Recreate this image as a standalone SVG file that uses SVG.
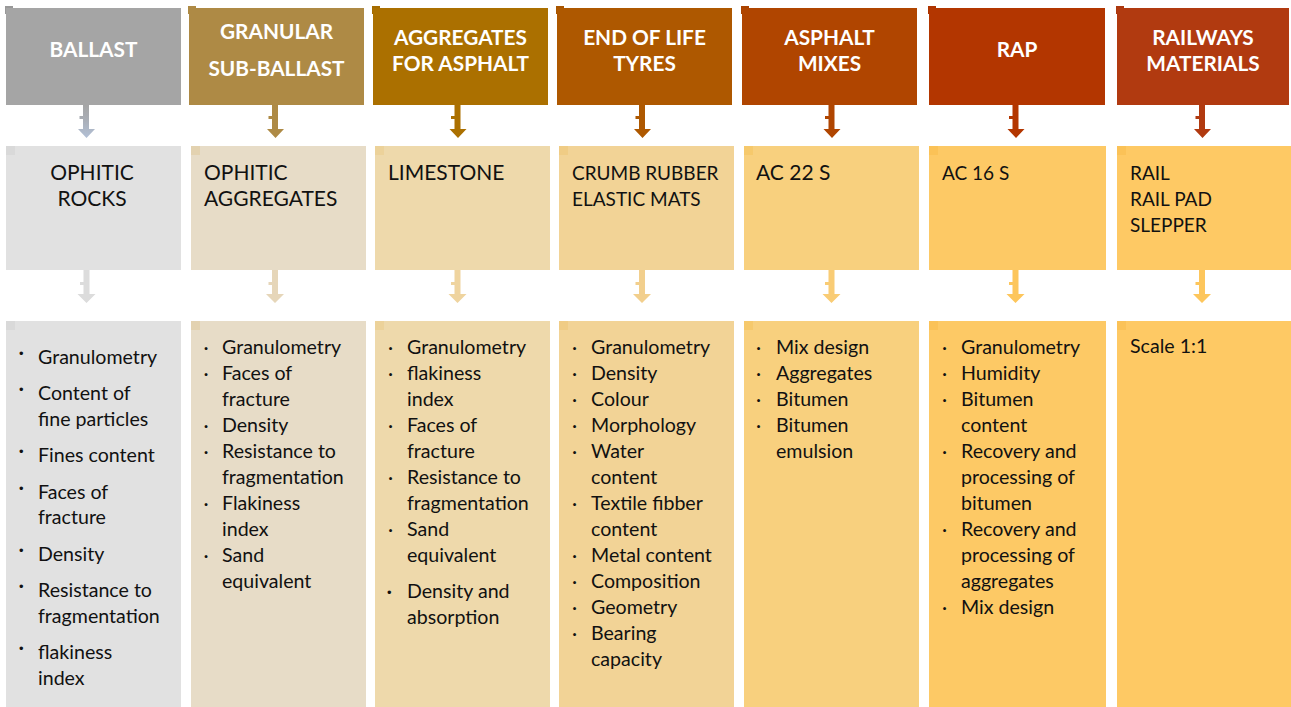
<svg xmlns="http://www.w3.org/2000/svg" width="1291" height="707" viewBox="0 0 1291 707">
<defs>
<linearGradient id="g1" x1="0" y1="0" x2="0" y2="1">
<stop offset="0" stop-color="#a5a5a5"/>
<stop offset="0.4" stop-color="#a9adb4"/>
<stop offset="1" stop-color="#b2c0d6"/>
</linearGradient>
<style>
.h{font-family:Lato,"Liberation Sans",sans-serif;font-weight:bold;font-size:20.8px;fill:#ffffff;text-anchor:middle}
.m{font-family:Lato,"Liberation Sans",sans-serif;font-size:21px;fill:#111111}
.ms{font-family:Lato,"Liberation Sans",sans-serif;font-size:19px;fill:#111111}
.b{font-family:Lato,"Liberation Sans",sans-serif;font-size:19.6px;fill:#111111}
.d{font-family:Lato,"Liberation Sans",sans-serif;font-size:19.6px;fill:#111111}
.bb{font-family:"Liberation Sans",sans-serif;font-size:13px;fill:#111111}
</style>
</defs>
<rect width="1291" height="707" fill="#ffffff"/>

<g id="connectors">
<path d="M83,105 H89 V129 H95 L86.5,138 L78,129 H83 V119 H79.5 V116 H83 Z" fill="url(#g1)"/>
<path d="M272,105 H278 V129 H284 L275.5,138 L267,129 H272 V119 H268.5 V116 H272 Z" fill="#ae8a45"/>
<path d="M454.5,105 H460.5 V129 H466.5 L458,138 L449.5,129 H454.5 V119 H451 V116 H454.5 Z" fill="#ab7000"/>
<path d="M639,105 H645 V129 H651 L642.5,138 L634,129 H639 V119 H635.5 V116 H639 Z" fill="#ae5800"/>
<path d="M828.5,105 H834.5 V129 H840.5 L832,138 L823.5,129 H828.5 V119 H825 V116 H828.5 Z" fill="#b04500"/>
<path d="M1012.5,105 H1018.5 V129 H1024.5 L1016,138 L1007.5,129 H1012.5 V119 H1009 V116 H1012.5 Z" fill="#b33600"/>
<path d="M1199,105 H1205 V129 H1211 L1202.5,138 L1194,129 H1199 V119 H1195.5 V116 H1199 Z" fill="#b13a10"/>

<path d="M83.5,270 H89.5 V294 H95.5 L86.5,303 L77.5,294 H83.5 V285 H80 V282 H83.5 Z" fill="#dcdcdc"/>
<path d="M272,270 H278 V294 H284 L275,303 L266,294 H272 V285 H268.5 V282 H272 Z" fill="#e6d6b9"/>
<path d="M454.5,270 H460.5 V294 H466.5 L457.5,303 L448.5,294 H454.5 V285 H451 V282 H454.5 Z" fill="#efd49f"/>
<path d="M639,270 H645 V294 H651 L642,303 L633,294 H639 V285 H635.5 V282 H639 Z" fill="#f2cf8d"/>
<path d="M828.5,270 H834.5 V294 H840.5 L831.5,303 L822.5,294 H828.5 V285 H825 V282 H828.5 Z" fill="#f9cc75"/>
<path d="M1012.5,270 H1018.5 V294 H1024.5 L1015.5,303 L1006.5,294 H1012.5 V285 H1009 V282 H1012.5 Z" fill="#fdc65c"/>
<path d="M1199,270 H1205 V294 H1211 L1202,303 L1193,294 H1199 V285 H1195.5 V282 H1199 Z" fill="#fdc65c"/>
</g>

<g id="h1"><rect x="5" y="6" width="8" height="8" fill="#999999"/><rect x="6" y="8" width="175" height="97" fill="#a5a5a5"/><text class="h" x="93.5" y="57">BALLAST</text></g>
<g id="h2"><rect x="188" y="6" width="8" height="8" fill="#ae8a45"/><rect x="189" y="8" width="175" height="97" fill="#ae8a45"/><text class="h" x="276.5" y="39">GRANULAR</text><text class="h" x="276.5" y="76">SUB-BALLAST</text></g>
<g id="h3"><rect x="372" y="6" width="8" height="8" fill="#a56c00"/><rect x="373" y="8" width="175" height="97" fill="#ab7000"/><text class="h" x="460.5" y="45">AGGREGATES</text><text class="h" x="460.5" y="71">FOR ASPHALT</text></g>
<g id="h4"><rect x="556" y="6" width="8" height="8" fill="#a85500"/><rect x="557" y="8" width="175" height="97" fill="#ae5800"/><text class="h" x="644.5" y="45">END OF LIFE</text><text class="h" x="644.5" y="71">TYRES</text></g>
<g id="h5"><rect x="741" y="6" width="8" height="8" fill="#aa4300"/><rect x="742" y="8" width="175" height="97" fill="#b04500"/><text class="h" x="829.5" y="45">ASPHALT</text><text class="h" x="829.5" y="71">MIXES</text></g>
<g id="h6"><rect x="928" y="6" width="8" height="8" fill="#ad3400"/><rect x="929" y="8" width="176" height="97" fill="#b33600"/><text class="h" x="1017" y="57">RAP</text></g>
<g id="h7"><rect x="1116" y="6" width="8" height="8" fill="#ab380f"/><rect x="1117" y="8" width="172" height="97" fill="#b13a10"/><text class="h" x="1203" y="45">RAILWAYS</text><text class="h" x="1203" y="71">MATERIALS</text></g>

<g id="m1"><rect x="6" y="146" width="175" height="124" fill="#e1e1e1"/><rect x="6" y="146" width="9" height="9" fill="#d9d9d9"/><text class="m" x="92" y="180" text-anchor="middle">OPHITIC</text><text class="m" x="92" y="206" text-anchor="middle">ROCKS</text></g>
<g id="m2"><rect x="191" y="146" width="175" height="124" fill="#e7dcc7"/><rect x="191" y="146" width="9" height="9" fill="#e3d2b0"/><text class="m" x="204" y="180">OPHITIC</text><text class="m" x="204" y="206">AGGREGATES</text></g>
<g id="m3"><rect x="375" y="146" width="175" height="124" fill="#eed9ab"/><rect x="375" y="146" width="9" height="9" fill="#ecd29a"/><text class="m" x="388" y="180">LIMESTONE</text></g>
<g id="m4"><rect x="559" y="146" width="175" height="124" fill="#f2d396"/><rect x="559" y="146" width="9" height="9" fill="#f0cc85"/><text class="ms" x="572" y="180">CRUMB RUBBER</text><text class="ms" x="572" y="206">ELASTIC MATS</text></g>
<g id="m5"><rect x="744" y="146" width="175" height="124" fill="#f8d07e"/><rect x="744" y="146" width="9" height="9" fill="#f6c96c"/><text class="m" x="756" y="180">AC 22 S</text></g>
<g id="m6"><rect x="929" y="146" width="177" height="124" fill="#fdc965"/><rect x="929" y="146" width="9" height="9" fill="#fbc257"/><text class="ms" x="942" y="180">AC 16 S</text></g>
<g id="m7"><rect x="1117" y="146" width="174" height="124" fill="#fec964"/><rect x="1117" y="146" width="9" height="9" fill="#fbc257"/><text class="ms" x="1130" y="180">RAIL</text><text class="ms" x="1130" y="206">RAIL PAD</text><text class="ms" x="1130" y="232">SLEPPER</text></g>

<g id="b1"><rect x="6" y="321" width="175" height="386" fill="#e1e1e1"/><rect x="6" y="321" width="9" height="9" fill="#d9d9d9"/>
<text class="bb" x="19" y="358">•</text><text class="b" x="38" y="364">Granulometry</text>
<text class="bb" x="19" y="394">•</text><text class="b" x="38" y="400">Content of</text><text class="b" x="38" y="426">fine particles</text>
<text class="bb" x="19" y="456">•</text><text class="b" x="38" y="462">Fines content</text>
<text class="bb" x="19" y="493">•</text><text class="b" x="38" y="499">Faces of</text><text class="b" x="38" y="524">fracture</text>
<text class="bb" x="19" y="555">•</text><text class="b" x="38" y="561">Density</text>
<text class="bb" x="19" y="591">•</text><text class="b" x="38" y="597">Resistance to</text><text class="b" x="38" y="623">fragmentation</text>
<text class="bb" x="19" y="653">•</text><text class="b" x="38" y="659">flakiness</text><text class="b" x="38" y="685">index</text>
</g>
<g id="b2"><rect x="191" y="321" width="175" height="386" fill="#e7dcc7"/><rect x="191" y="321" width="9" height="9" fill="#e3d2b0"/>
<text class="d" x="203.5" y="354">·</text><text class="b" x="222" y="354">Granulometry</text>
<text class="d" x="203.5" y="380">·</text><text class="b" x="222" y="380">Faces of</text><text class="b" x="222" y="406">fracture</text>
<text class="d" x="203.5" y="432">·</text><text class="b" x="222" y="432">Density</text>
<text class="d" x="203.5" y="458">·</text><text class="b" x="222" y="458">Resistance to</text><text class="b" x="222" y="484">fragmentation</text>
<text class="d" x="203.5" y="510">·</text><text class="b" x="222" y="510">Flakiness</text><text class="b" x="222" y="536">index</text>
<text class="d" x="203.5" y="562">·</text><text class="b" x="222" y="562">Sand</text><text class="b" x="222" y="588">equivalent</text>
</g>
<g id="b3"><rect x="375" y="321" width="175" height="386" fill="#eed9ab"/><rect x="375" y="321" width="9" height="9" fill="#ecd29a"/>
<text class="d" x="388" y="354">·</text><text class="b" x="407" y="354">Granulometry</text>
<text class="d" x="388" y="380">·</text><text class="b" x="407" y="380">flakiness</text><text class="b" x="407" y="406">index</text>
<text class="d" x="388" y="432">·</text><text class="b" x="407" y="432">Faces of</text><text class="b" x="407" y="458">fracture</text>
<text class="d" x="388" y="484">·</text><text class="b" x="407" y="484">Resistance to</text><text class="b" x="407" y="510">fragmentation</text>
<text class="d" x="388" y="536">·</text><text class="b" x="407" y="536">Sand</text><text class="b" x="407" y="562">equivalent</text>
<text class="bb" x="387" y="597">•</text><text class="b" x="407" y="598">Density and</text><text class="b" x="407" y="624">absorption</text>
</g>
<g id="b4"><rect x="559" y="321" width="175" height="386" fill="#f2d396"/><rect x="559" y="321" width="9" height="9" fill="#f0cc85"/>
<text class="d" x="572" y="354">·</text><text class="b" x="591" y="354">Granulometry</text>
<text class="d" x="572" y="380">·</text><text class="b" x="591" y="380">Density</text>
<text class="d" x="572" y="406">·</text><text class="b" x="591" y="406">Colour</text>
<text class="d" x="572" y="432">·</text><text class="b" x="591" y="432">Morphology</text>
<text class="d" x="572" y="458">·</text><text class="b" x="591" y="458">Water</text><text class="b" x="591" y="484">content</text>
<text class="d" x="572" y="510">·</text><text class="b" x="591" y="510">Textile fibber</text><text class="b" x="591" y="536">content</text>
<text class="d" x="572" y="562">·</text><text class="b" x="591" y="562">Metal content</text>
<text class="d" x="572" y="588">·</text><text class="b" x="591" y="588">Composition</text>
<text class="d" x="572" y="614">·</text><text class="b" x="591" y="614">Geometry</text>
<text class="d" x="572" y="640">·</text><text class="b" x="591" y="640">Bearing</text><text class="b" x="591" y="666">capacity</text>
</g>
<g id="b5"><rect x="744" y="321" width="175" height="386" fill="#f8d07e"/><rect x="744" y="321" width="9" height="9" fill="#f6c96c"/>
<text class="d" x="756" y="354">·</text><text class="b" x="776" y="354">Mix design</text>
<text class="d" x="756" y="380">·</text><text class="b" x="776" y="380">Aggregates</text>
<text class="d" x="756" y="406">·</text><text class="b" x="776" y="406">Bitumen</text>
<text class="d" x="756" y="432">·</text><text class="b" x="776" y="432">Bitumen</text><text class="b" x="776" y="458">emulsion</text>
</g>
<g id="b6"><rect x="929" y="321" width="177" height="386" fill="#fdc965"/><rect x="929" y="321" width="9" height="9" fill="#fbc257"/>
<text class="d" x="942" y="354">·</text><text class="b" x="961" y="354">Granulometry</text>
<text class="d" x="942" y="380">·</text><text class="b" x="961" y="380">Humidity</text>
<text class="d" x="942" y="406">·</text><text class="b" x="961" y="406">Bitumen</text><text class="b" x="961" y="432">content</text>
<text class="d" x="942" y="458">·</text><text class="b" x="961" y="458">Recovery and</text><text class="b" x="961" y="484">processing of</text><text class="b" x="961" y="510">bitumen</text>
<text class="d" x="942" y="536">·</text><text class="b" x="961" y="536">Recovery and</text><text class="b" x="961" y="562">processing of</text><text class="b" x="961" y="588">aggregates</text>
<text class="d" x="942" y="614">·</text><text class="b" x="961" y="614">Mix design</text>
</g>
<g id="b7"><rect x="1117" y="321" width="174" height="386" fill="#fec964"/><rect x="1117" y="321" width="9" height="9" fill="#fbc257"/>
<text class="b" x="1130" y="353">Scale 1:1</text>
</g>
</svg>
